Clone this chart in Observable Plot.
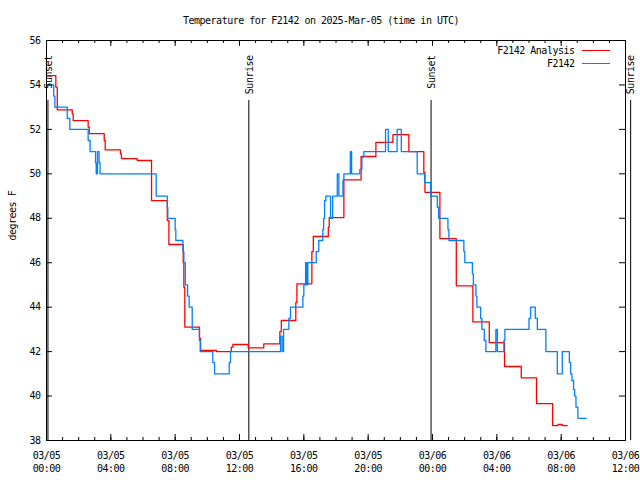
<!DOCTYPE html>
<html><head><meta charset="utf-8">
<script src="https://cdn.jsdelivr.net/npm/d3@7"></script>
<script src="https://cdn.jsdelivr.net/npm/@observablehq/plot@0.6"></script>
<style>
body{margin:0;background:#fff;}
#wrap{position:relative;width:640px;height:480px;}
.lg{position:absolute;height:0;border-top:1.3px solid;}
svg text{letter-spacing:-0.5px;}
</style></head>
<body><div id="wrap"></div>
<script>
// ---- data (hours after 2025-03-05 00:00 UTC) ----
const titleText = "Temperature for F2142 on 2025-Mar-05 (time in UTC)";
const yLabel = "degrees F";
const seriesNames = ["F2142 Analysis", "F2142"];
const seriesColors = ["#ff0000", "#0080ff"];

const redHours = [0.0, 0.58, 0.67, 1.60, 1.66, 2.59, 2.66, 3.59, 3.65, 4.60, 4.66, 5.64, 6.53, 7.51, 7.61, 8.50, 8.54, 8.60, 9.51, 9.58, 10.57, 11.49, 11.59, 12.54, 13.51, 14.51, 14.60, 15.50, 15.57, 16.50, 16.59, 17.52, 17.58, 18.49, 19.56, 20.48, 21.54, 22.53, 23.46, 23.53, 24.46, 25.48, 26.51, 27.53, 28.48, 29.52, 30.47, 31.47, 31.80, 32.07, 32.38];
const redTemps = [54.42, 53.9, 52.88, 52.7, 52.39, 52.1, 51.81, 51.5, 51.08, 50.9, 50.68, 50.6, 48.79, 47.9, 46.82, 46.0, 44.9, 43.1, 42.6, 42.05, 42.0, 42.2, 42.32, 42.17, 42.35, 42.9, 43.4, 44.2, 45.05, 46.5, 47.18, 47.6, 48.03, 49.73, 50.78, 51.42, 51.76, 51.0, 50.06, 49.17, 47.08, 44.96, 43.34, 42.4, 41.33, 40.82, 39.66, 38.67, 38.72, 38.67, 38.67];

const blueHours = [0.0, 0.45, 0.52, 1.29, 1.45, 2.59, 2.71, 3.05, 3.09, 3.17, 3.27, 3.33, 6.82, 7.51, 7.54, 8.00, 8.04, 8.48, 8.54, 8.63, 8.77, 8.87, 9.06, 9.51, 9.56, 10.34, 10.45, 11.36, 11.44, 14.55, 14.65, 14.74, 15.07, 15.17, 15.94, 16.00, 16.11, 16.17, 16.25, 16.77, 16.93, 17.18, 17.23, 17.29, 17.37, 17.66, 17.79, 18.08, 18.18, 18.43, 18.49, 18.89, 18.97, 19.48, 19.61, 19.73, 21.08, 21.25, 21.80, 22.06, 23.05, 23.51, 23.88, 24.30, 24.38, 24.96, 25.02, 25.95, 26.01, 26.48, 26.54, 26.70, 26.76, 26.99, 27.07, 27.22, 27.32, 27.94, 28.03, 28.44, 28.50, 30.00, 30.10, 30.39, 30.52, 31.05, 31.76, 32.07, 32.51, 32.59, 32.67, 32.77, 32.84, 32.92, 33.04, 33.56];
const blueTemps = [54, 53.5, 53, 52.5, 52, 51.5, 51, 50.5, 50, 51, 50.5, 50, 49, 48.5, 48, 47.5, 47, 46.5, 46, 45, 44.5, 44, 43, 42.5, 42, 41.5, 41, 41.5, 42, 42.7, 42, 43, 43.5, 44, 44.5, 45, 46, 45, 46, 46.5, 47, 47.5, 48, 48.8, 49, 48, 49, 50, 49, 49.7, 50, 51, 50, 50.2, 50.75, 51, 52, 51, 52, 51, 50, 49.6, 49, 48.5, 48, 47.5, 47, 46.5, 46, 45.5, 45, 44.5, 44, 43.5, 43, 42.5, 42, 43, 42, 42.5, 43, 43.5, 44, 43.5, 43, 42, 41, 42, 41.5, 41, 40.7, 40.3, 40, 39.5, 39, 39];

const sunLabels = ["Sunset", "Sunrise", "Sunset", "Sunrise"];
const sunHours = [0.09, 12.58, 23.91, 36.32];

const yTicks = [38, 40, 42, 44, 46, 48, 50, 52, 54, 56];
const xMajorHours = [0, 4, 8, 12, 16, 20, 24, 28, 32, 36];
const xMinorHours = d3.range(0, 37, 1);
const xDomainHours = [0, 36];
const yDomain = [38, 56];

// ---- build tables ----
const t0 = Date.UTC(2025, 2, 5);
const toDate = h => new Date(t0 + h * 3600e3);
const red = redHours.map((h, i) => ({t: toDate(h), v: redTemps[i]}));
const blue = blueHours.map((h, i) => ({t: toDate(h), v: blueTemps[i]}));
const sun = sunHours.map((h, i) => ({t: toDate(h), label: sunLabels[i]}));
const majors = xMajorHours.map(toDate);
const minors = xMinorHours.map(toDate);

const W = 640, H = 480, ML = 46, MR = 15, MT = 40, MB = 40;
const fw = W - ML - MR, fh = H - MT - MB;

const chart = Plot.plot({
  width: W, height: H,
  marginLeft: ML, marginRight: MR, marginTop: MT, marginBottom: MB,
  style: {fontFamily: "'DejaVu Sans Mono', monospace", fontSize: "10px", background: "white", color: "black", overflow: "visible"},
  x: {type: "utc", domain: xDomainHours.map(toDate)},
  y: {domain: yDomain},
  marks: [
    Plot.ruleX(sun, {x: "t", insetTop: 60, stroke: "black", strokeWidth: 1}),
    Plot.text(sun, {x: "t", text: "label", frameAnchor: "top", lineAnchor: "middle", rotate: -90, textAnchor: "end", dy: 15, dx: 0.5, fill: "black"}),
    Plot.line(red, {x: "t", y: "v", curve: "step-after", stroke: seriesColors[0], strokeWidth: 1.3}),
    Plot.line(blue, {x: "t", y: "v", curve: "step-after", stroke: seriesColors[1], strokeWidth: 1.3}),
    Plot.frame({stroke: "black", strokeWidth: 1}),
    // inward ticks
    Plot.tickX(minors, {x: d => d, insetTop: fh - 3, stroke: "black"}),
    Plot.tickX(minors, {x: d => d, insetBottom: fh - 3, stroke: "black"}),
    Plot.tickX(majors, {x: d => d, insetTop: fh - 6, stroke: "black"}),
    Plot.tickX(majors, {x: d => d, insetBottom: fh - 6, stroke: "black"}),
    Plot.tickY(yTicks, {y: d => d, insetRight: fw - 6, stroke: "black"}),
    Plot.tickY(yTicks, {y: d => d, insetLeft: fw - 6, stroke: "black"}),
    Plot.axisX({ticks: majors, tickFormat: d3.utcFormat("%m/%d\n%H:%M"), tickSize: 0, tickPadding: 9, lineHeight: 1.3, label: null}),
    Plot.axisY({ticks: yTicks, tickSize: 0, tickPadding: 6, label: null}),
    Plot.text([titleText], {frameAnchor: "top", lineAnchor: "middle", dy: -20, dx: -15, fill: "black"}),
    Plot.text([yLabel], {frameAnchor: "left", rotate: -90, dx: -34, fill: "black"}),
    Plot.text([seriesNames[0]], {frameAnchor: "top-right", lineAnchor: "middle", textAnchor: "end", dx: -51, dy: 10, fill: "black"}),
    Plot.text([seriesNames[1]], {frameAnchor: "top-right", lineAnchor: "middle", textAnchor: "end", dx: -51, dy: 23, fill: "black"})
  ]
});
const wrap = document.getElementById("wrap");
wrap.appendChild(chart);
// legend line samples
[[50, 0], [63, 1]].forEach(([y, i]) => {
  const d = document.createElement("div");
  d.className = "lg";
  d.style.left = "582px"; d.style.width = "28px"; d.style.top = (y - 0.5) + "px";
  d.style.borderColor = seriesColors[i];
  wrap.appendChild(d);
});
</script>
</body></html>
